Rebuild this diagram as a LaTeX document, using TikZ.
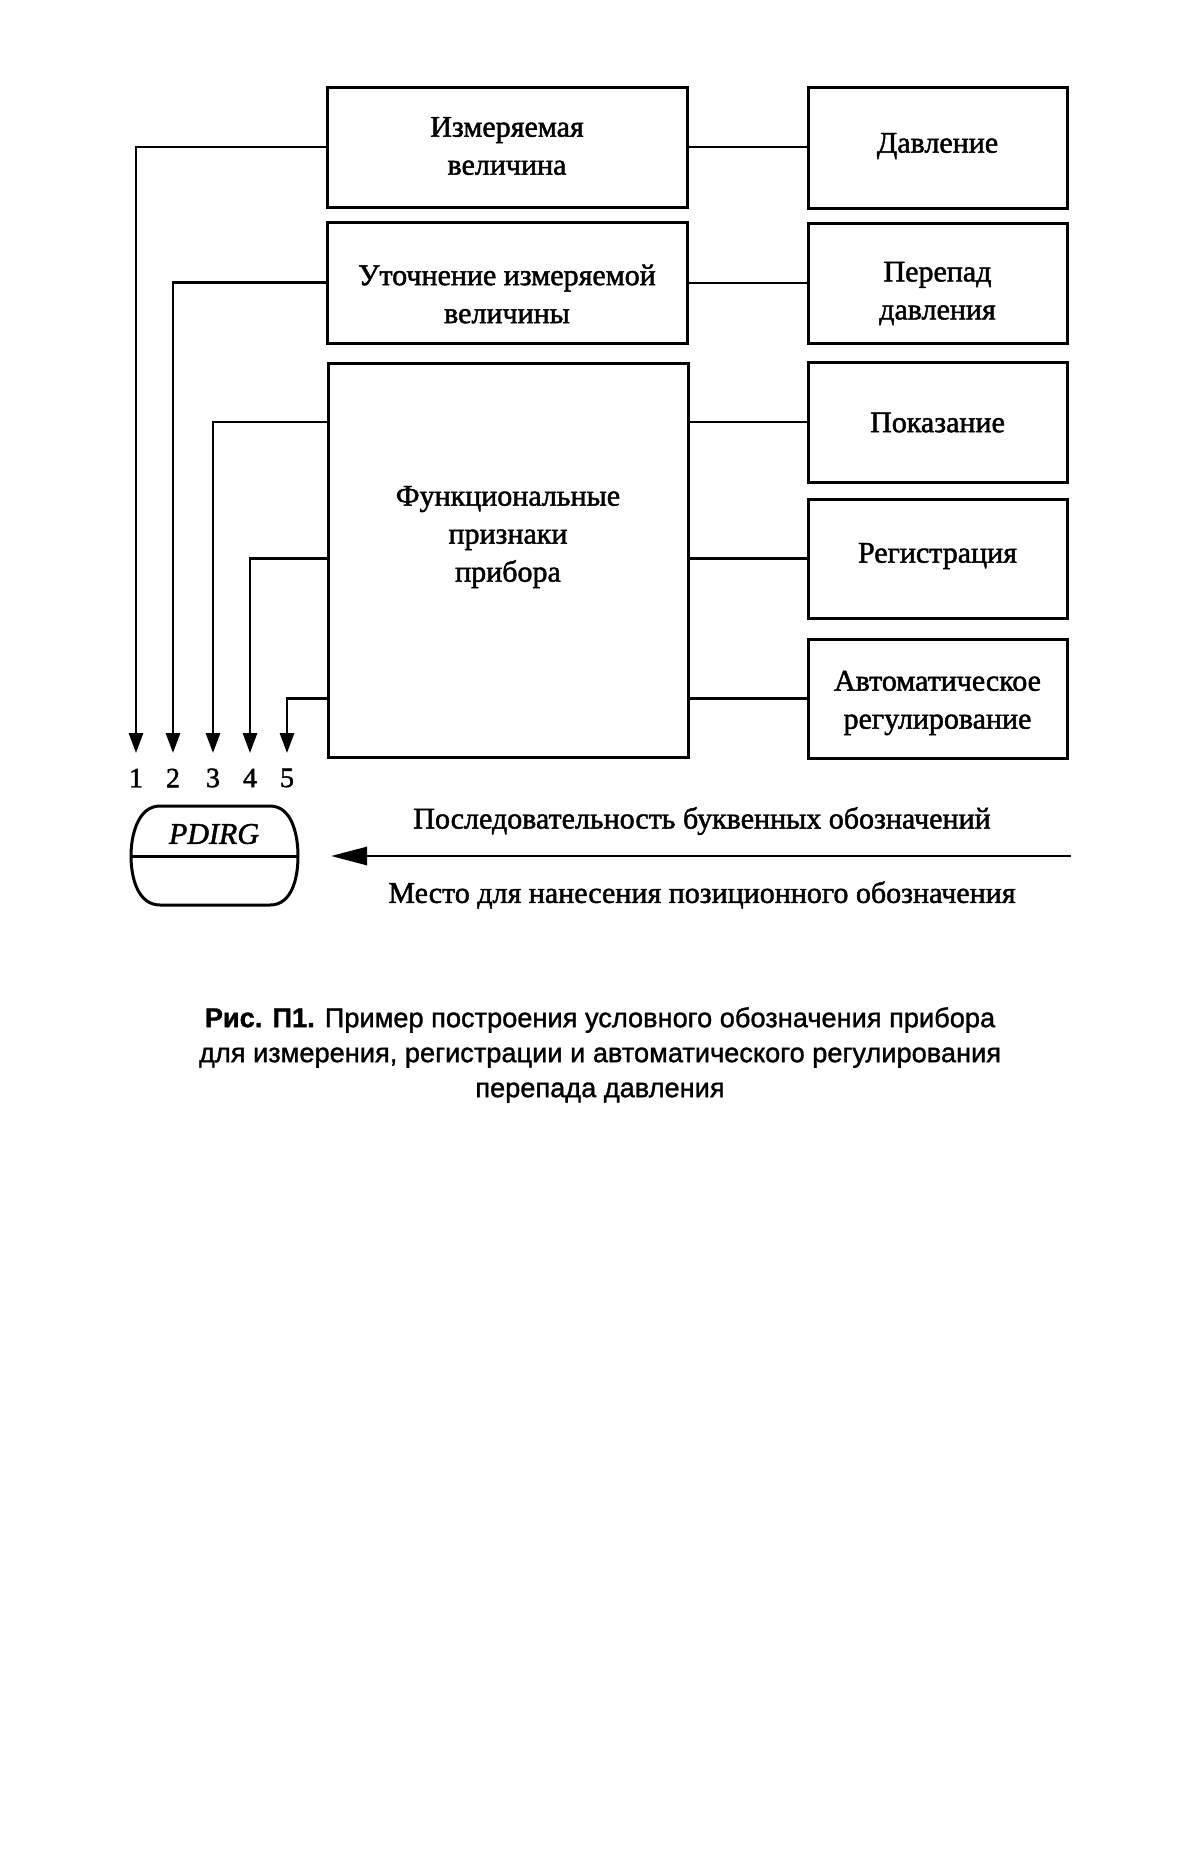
\documentclass[tikz,border=0pt]{standalone}
\usepackage{fontspec}
\setmainfont{Liberation Serif}
\setsansfont{Liberation Sans}
\newfontfamily\diagf{Liberation Serif}[FakeBold=1.6]
\newfontfamily\capf{Liberation Sans}[FakeBold=1.2]
\usetikzlibrary{arrows.meta}
\begin{document}
\begin{tikzpicture}[x=0.5pt,y=-0.5pt]
\tikzset{
  blk/.style={draw, line width=1.5pt, inner sep=0pt},
  lbox/.style={blk, minimum width=180pt},
  rbox/.style={blk, minimum width=129.5pt},
  txt/.style={inner sep=0pt, align=center, font=\fontsize{15}{19}\selectfont\diagf},
  wire/.style={line width=1.4pt},
  tarr/.style={wire, -{Triangle[length=10pt,width=7pt]}},
  bigarr/.style={wire, -{Triangle[length=18pt,width=9pt]}},
  numtxt/.style={inner sep=0pt, font=\fontsize{14}{16}\selectfont\diagf},
  captxt/.style={inner sep=0pt, align=center, font=\fontsize{13.6}{17.5}\selectfont\capf}
}
\path[use as bounding box, fill=white] (0,0) rectangle (1200,1864);

% left column boxes
\node[lbox, minimum height=60pt] (A) at (507,147) {};
\node[lbox, minimum height=60.5pt] (B) at (507,282.5) {};
\node[lbox, minimum height=197pt] (C) at (508,560) {};
\node[txt] (At) at (507,146) {Измеряемая\\величина};
\node[txt] (Bt) at (507,294) {Уточнение измеряемой\\величины};
\node[txt] (Ct) at (508,537) {Функциональные\\признаки\\прибора};

% right column boxes
\node[rbox, minimum height=60.5pt] (D1) at (937.5,147.5) {};
\node[rbox, minimum height=60pt] (D2) at (937.5,283) {};
\node[rbox, minimum height=60pt] (D3) at (937.5,422) {};
\node[rbox, minimum height=59.5pt] (D4) at (937.5,558.5) {};
\node[rbox, minimum height=59.5pt] (D5) at (937.5,698.5) {};
\node[txt] (D1t) at (937.5,146) {Давление};
\node[txt] (D2t) at (937.5,293.5) {Перепад\\давления};
\node[txt] (D3t) at (937.5,422.5) {Показание};
\node[txt] (D4t) at (937.5,556) {Регистрация};
\node[txt] (D5t) at (937.5,703) {Автоматическое\\регулирование};

% right connectors
\draw[wire] (A.east) -- (A.east -| D1.west);
\draw[wire] (B.east |- D2.west) -- (D2.west);
\draw[wire] (C.east |- D3.west) -- (D3.west);
\draw[wire] (C.east |- D4.west) -- (D4.west);
\draw[wire] (C.east |- D5.west) -- (D5.west);

% left connectors with arrows
\coordinate (t1) at (136,753);
\coordinate (t2) at (173,753);
\coordinate (t3) at (213,753);
\coordinate (t4) at (250,753);
\coordinate (t5) at (287,753);
\draw[tarr] (A.west) -| (t1);
\draw[tarr] (B.west) -| (t2);
\draw[tarr] (C.west |- D3.west) -| (t3);
\draw[tarr] (C.west |- D4.west) -| (t4);
\draw[tarr] (C.west |- D5.west) -| (t5);

% numbers
\node[numtxt] (n1) at (136,778) {1};
\node[numtxt] (n2) at (173,778) {2};
\node[numtxt] (n3) at (213,778) {3};
\node[numtxt] (n4) at (250,778) {4};
\node[numtxt] (n5) at (287,778) {5};

% instrument symbol
\draw[line width=1.5pt] (160,806) -- (270,806)
  .. controls (292,806) and (298,835) .. (298,856)
  .. controls (298,878) and (292,905) .. (270,905)
  -- (160,905)
  .. controls (138,905) and (131,878) .. (131,856)
  .. controls (131,835) and (138,806) .. (160,806) -- cycle;
\draw[line width=1.5pt] (131,856) -- (298,856);
\node[txt, font=\fontsize{15}{19}\selectfont\diagf\itshape] (pd) at (214,834) {PDIRG};

% long arrow and its labels
\coordinate (ae) at (1071,856);
\coordinate (at) at (331,856);
\draw[bigarr] (ae) -- (at);
\node[txt] (seq) at (702,821) {Последовательность буквенных обозначений};
\node[txt] (pos) at (702,895) {Место для нанесения позиционного обозначения};

% caption
\node[captxt] (cap) at (600,1055) {{\bfseries Рис. П1.} Пример построения условного обозначения прибора\\для измерения, регистрации и автоматического регулирования\\перепада давления};
\end{tikzpicture}
\end{document}
